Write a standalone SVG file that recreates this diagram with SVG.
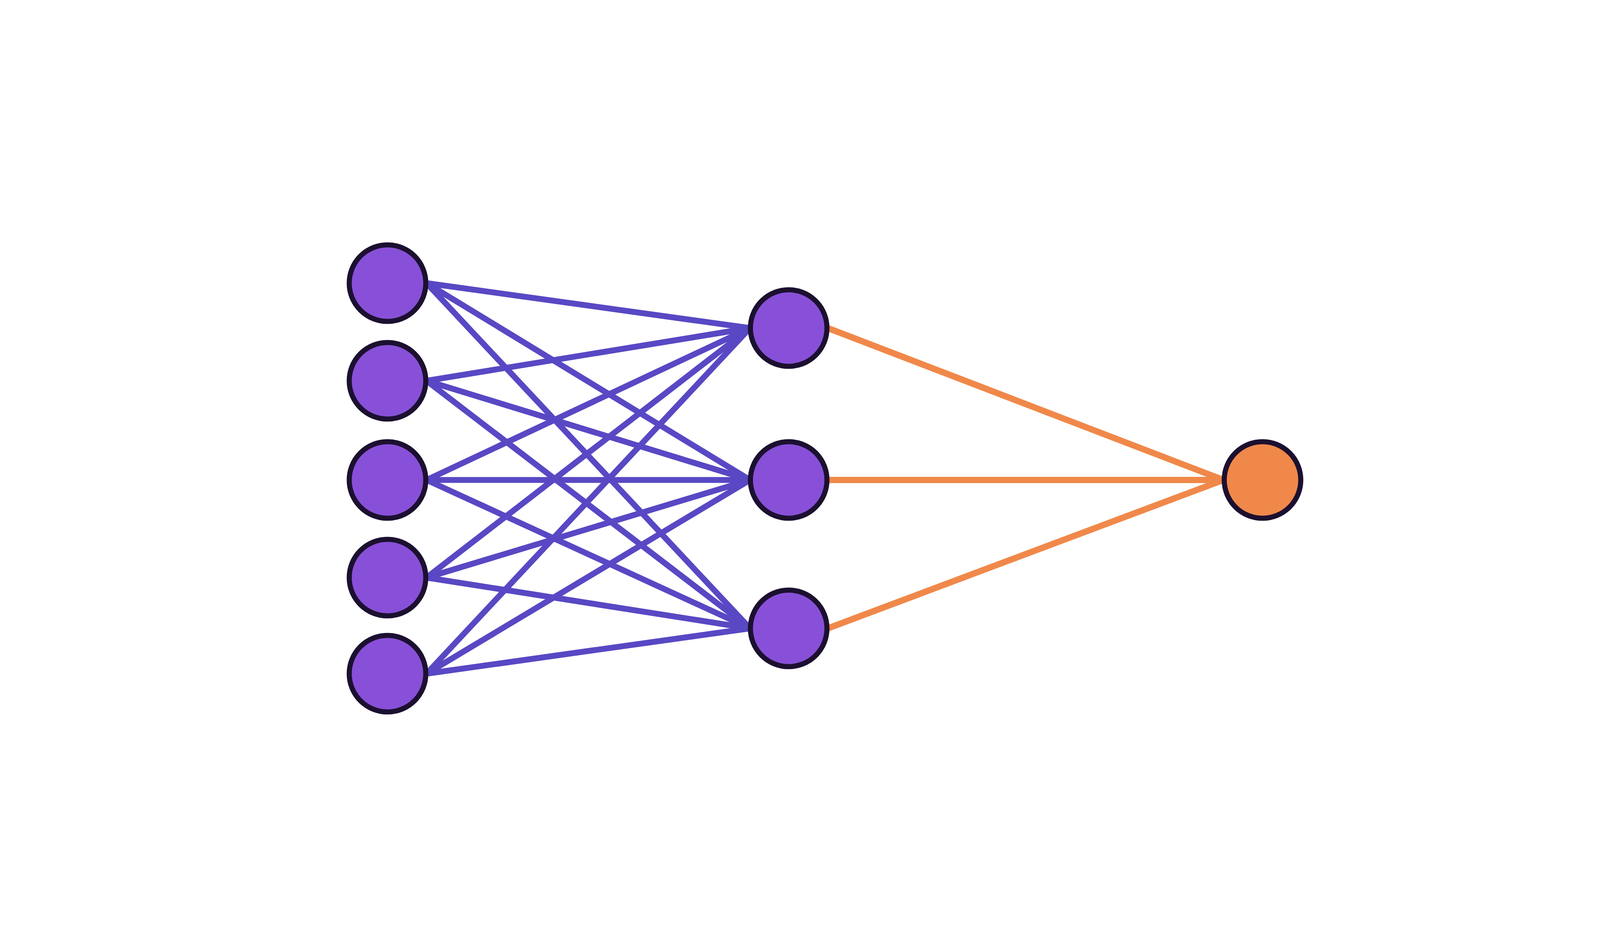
<svg xmlns="http://www.w3.org/2000/svg" width="4320" height="2430" viewBox="0 0 4320 2430">
<style>
.n{fill:#8850d8;stroke:#1c1030;stroke-width:13}
.o{fill:#f0884a;stroke:#1c1030;stroke-width:13}
.b{stroke:#5848c4;stroke-width:15;fill:none;stroke-linecap:round}
.r{stroke:#f0884a;stroke-width:16;fill:none;stroke-linecap:round}
</style>
<rect width="4320" height="2430" fill="#ffffff"/>
<g id="connectors">
<g class="b">
<line x1="1092" y1="725" x2="1920" y2="840"/><line x1="1092" y1="725" x2="1920" y2="1229"/><line x1="1092" y1="725" x2="1920" y2="1609"/>
<line x1="1092" y1="975" x2="1920" y2="840"/><line x1="1092" y1="975" x2="1920" y2="1229"/><line x1="1092" y1="975" x2="1920" y2="1609"/>
<line x1="1092" y1="1229" x2="1920" y2="840"/><line x1="1092" y1="1229" x2="1920" y2="1229"/><line x1="1092" y1="1229" x2="1920" y2="1609"/>
<line x1="1092" y1="1479" x2="1920" y2="840"/><line x1="1092" y1="1479" x2="1920" y2="1229"/><line x1="1092" y1="1479" x2="1920" y2="1609"/>
<line x1="1092" y1="1725" x2="1920" y2="840"/><line x1="1092" y1="1725" x2="1920" y2="1229"/><line x1="1092" y1="1725" x2="1920" y2="1609"/>
</g>
<g class="r">
<line x1="2119" y1="840" x2="3132" y2="1229"/><line x1="2119" y1="1229" x2="3132" y2="1229"/><line x1="2119" y1="1609" x2="3132" y2="1229"/>
</g>
</g>
<g id="in1"><circle class="n" cx="992" cy="725" r="98"/></g>
<g id="in2"><circle class="n" cx="992" cy="975" r="98"/></g>
<g id="in3"><circle class="n" cx="992" cy="1229" r="98"/></g>
<g id="in4"><circle class="n" cx="992" cy="1479" r="98"/></g>
<g id="in5"><circle class="n" cx="992" cy="1725" r="98"/></g>
<g id="h1"><circle class="n" cx="2019" cy="840" r="98"/></g>
<g id="h2"><circle class="n" cx="2019" cy="1229" r="98"/></g>
<g id="h3"><circle class="n" cx="2019" cy="1609" r="98"/></g>
<g id="out"><circle class="o" cx="3232" cy="1229" r="98"/></g>
</svg>
